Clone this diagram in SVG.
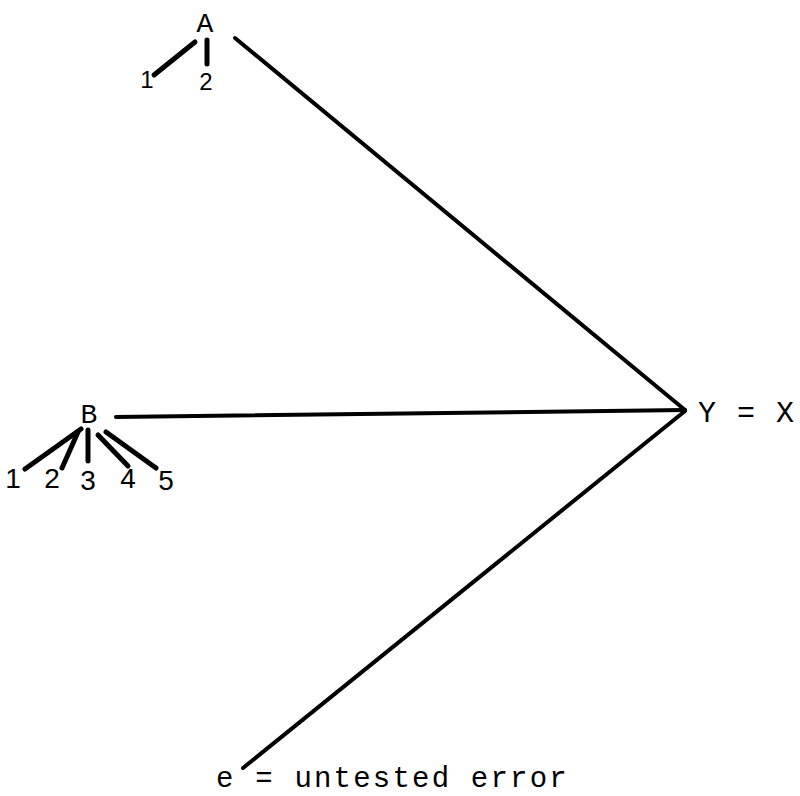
<svg xmlns="http://www.w3.org/2000/svg" width="800" height="796" viewBox="0 0 800 796">
<style>
.t{font-family:"Liberation Mono","DejaVu Sans Mono",monospace;fill:#000}
.lbl{font-size:28px}
.d{font-family:"Liberation Sans",sans-serif;fill:#000}
.c{stroke:#000;stroke-width:4;fill:none;stroke-linecap:round}
.s{stroke:#000;stroke-width:5;fill:none;stroke-linecap:round}
</style>
<rect width="800" height="796" fill="#fff"/>
<g id="connectors">
<line class="c" x1="235" y1="38" x2="685" y2="410"/>
<line class="c" x1="116" y1="417" x2="685" y2="410"/>
<line class="c" x1="685" y1="411" x2="243" y2="768"/>
</g>
<g id="A">
<text class="t lbl" x="205" y="32" text-anchor="middle">A</text>
<line class="s" x1="195" y1="42" x2="154" y2="75"/>
<line class="s" x1="207" y1="40" x2="207" y2="64"/>
<text class="d" font-size="24" x="147" y="88" text-anchor="middle">1</text>
<text class="d" font-size="24" x="206" y="90" text-anchor="middle">2</text>
</g>
<g id="B">
<text class="t lbl" x="89" y="423" text-anchor="middle">B</text>
<line class="s" x1="81" y1="429" x2="25" y2="469"/>
<line class="s" x1="78" y1="432" x2="62" y2="468"/>
<line class="s" x1="88" y1="430" x2="88" y2="461"/>
<line class="s" x1="98" y1="435" x2="128" y2="466"/>
<line class="s" x1="106" y1="432" x2="156" y2="468"/>
<text class="d" font-size="28" x="13" y="488" text-anchor="middle">1</text>
<text class="d" font-size="28" x="52" y="488" text-anchor="middle">2</text>
<text class="d" font-size="28" x="88" y="490" text-anchor="middle">3</text>
<text class="d" font-size="28" x="128" y="488" text-anchor="middle">4</text>
<text class="d" font-size="28" x="166" y="490" text-anchor="middle">5</text>
</g>
<g id="YX">
<text class="t" font-size="30" x="698" y="422" letter-spacing="1.5">Y = X</text>
</g>
<g id="E">
<text class="t" font-size="29" x="216" y="787" letter-spacing="2.2">e = untested error</text>
</g>
</svg>
